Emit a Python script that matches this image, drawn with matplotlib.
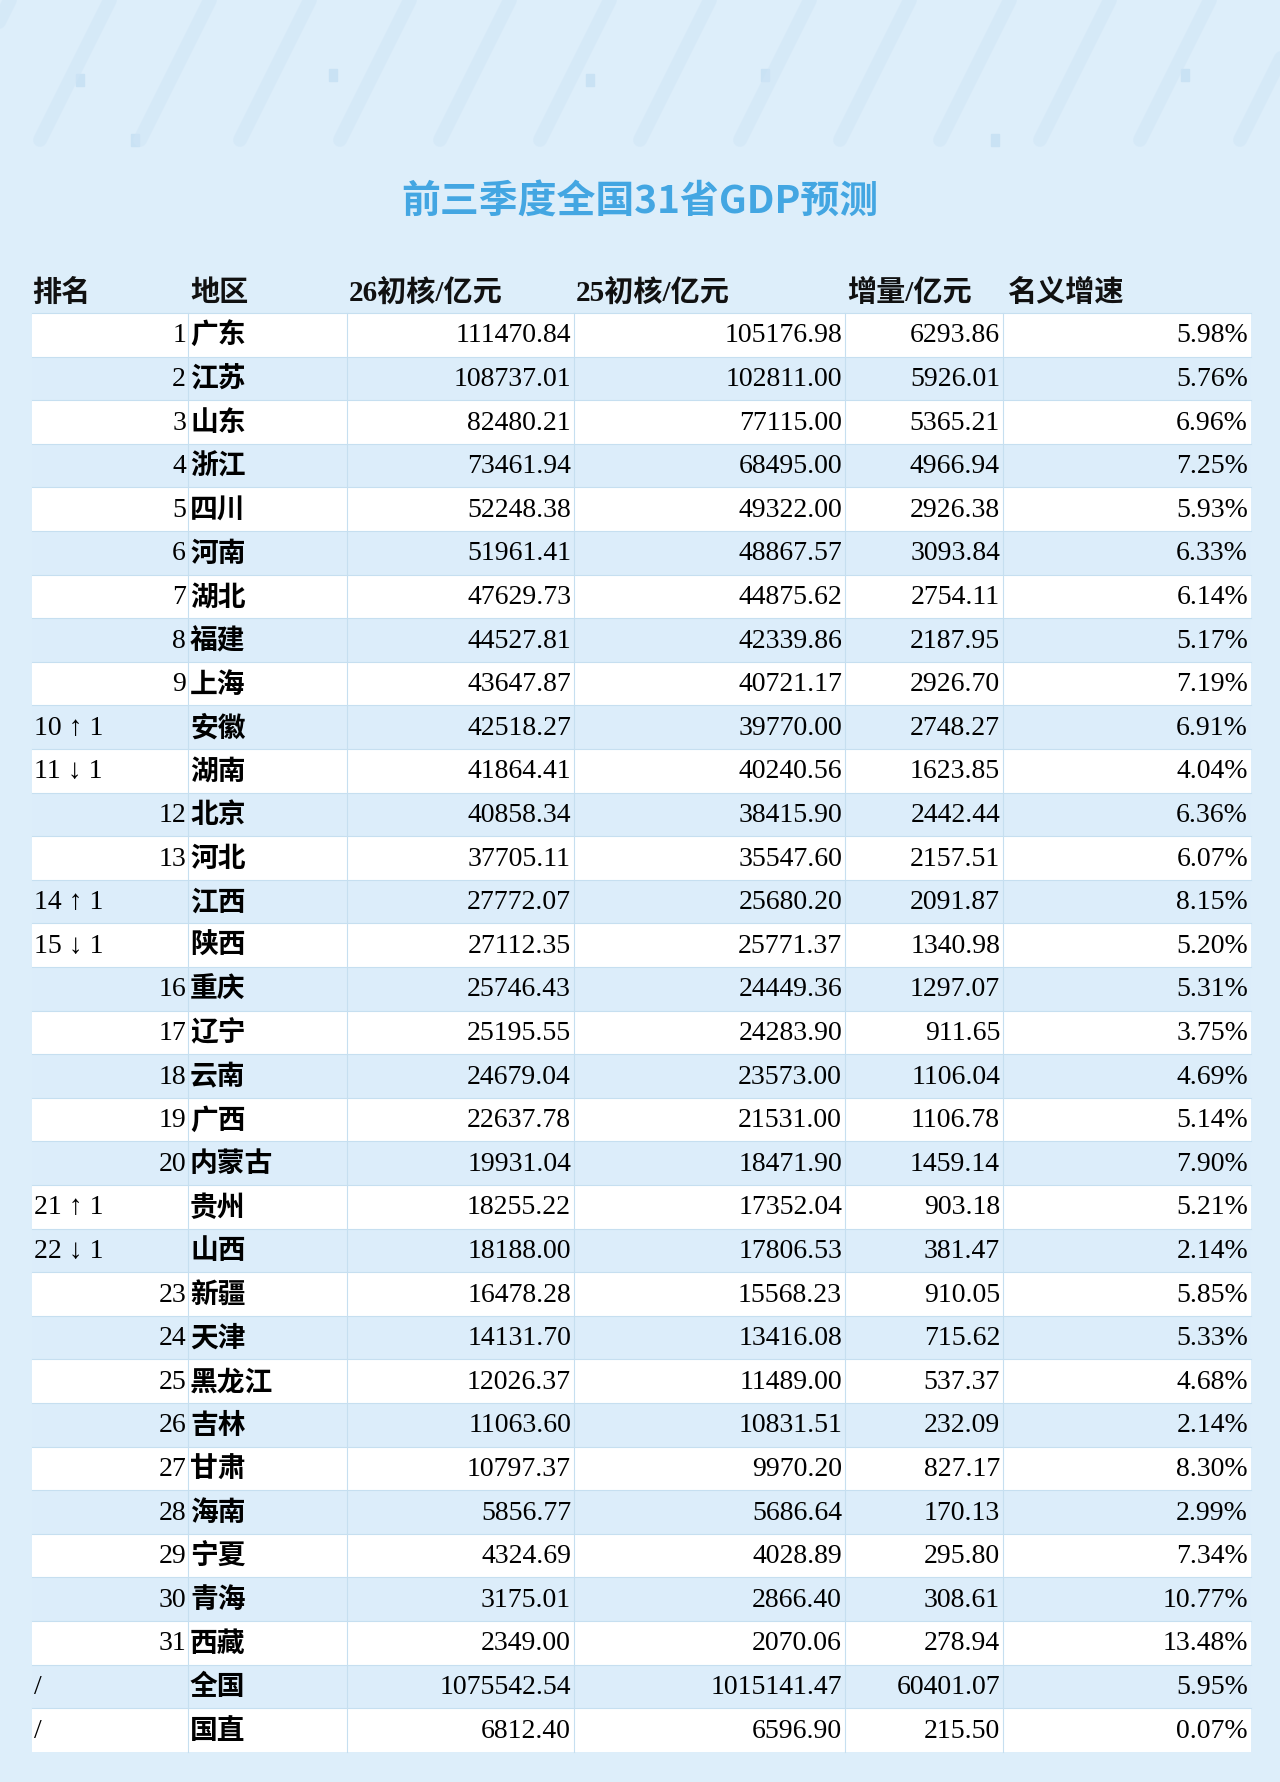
import matplotlib
matplotlib.use('Agg')
import matplotlib.pyplot as plt
from matplotlib.patches import Rectangle

plt.rcParams['font.family'] = ['Liberation Serif', 'Noto Sans CJK SC', 'DejaVu Sans']

# table data
ranks = list(range(1, 32)) + ['/', '/']
moves = {10: '↑ 1', 11: '↓ 1', 14: '↑ 1', 15: '↓ 1', 21: '↑ 1', 22: '↓ 1'}
regions = ['广东', '江苏', '山东', '浙江', '四川', '河南', '湖北', '福建', '上海', '安徽',
           '湖南', '北京', '河北', '江西', '陕西', '重庆', '辽宁', '云南', '广西', '内蒙古',
           '贵州', '山西', '新疆', '天津', '黑龙江', '吉林', '甘肃', '海南', '宁夏', '青海',
           '西藏', '全国', '国直']
gdp26 = ['111470.84', '108737.01', '82480.21', '73461.94', '52248.38', '51961.41', '47629.73',
         '44527.81', '43647.87', '42518.27', '41864.41', '40858.34', '37705.11', '27772.07',
         '27112.35', '25746.43', '25195.55', '24679.04', '22637.78', '19931.04', '18255.22',
         '18188.00', '16478.28', '14131.70', '12026.37', '11063.60', '10797.37', '5856.77',
         '4324.69', '3175.01', '2349.00', '1075542.54', '6812.40']
gdp25 = ['105176.98', '102811.00', '77115.00', '68495.00', '49322.00', '48867.57', '44875.62',
         '42339.86', '40721.17', '39770.00', '40240.56', '38415.90', '35547.60', '25680.20',
         '25771.37', '24449.36', '24283.90', '23573.00', '21531.00', '18471.90', '17352.04',
         '17806.53', '15568.23', '13416.08', '11489.00', '10831.51', '9970.20', '5686.64',
         '4028.89', '2866.40', '2070.06', '1015141.47', '6596.90']
incr = ['6293.86', '5926.01', '5365.21', '4966.94', '2926.38', '3093.84', '2754.11', '2187.95',
        '2926.70', '2748.27', '1623.85', '2442.44', '2157.51', '2091.87', '1340.98', '1297.07',
        '911.65', '1106.04', '1106.78', '1459.14', '903.18', '381.47', '910.05', '715.62',
        '537.37', '232.09', '827.17', '170.13', '295.80', '308.61', '278.94', '60401.07', '215.50']
growth = ['5.98%', '5.76%', '6.96%', '7.25%', '5.93%', '6.33%', '6.14%', '5.17%', '7.19%',
          '6.91%', '4.04%', '6.36%', '6.07%', '8.15%', '5.20%', '5.31%', '3.75%', '4.69%',
          '5.14%', '7.90%', '5.21%', '2.14%', '5.85%', '5.33%', '4.68%', '2.14%', '8.30%',
          '2.99%', '7.34%', '10.77%', '13.48%', '5.95%', '0.07%']
headers = ['排名', '地区', '26初核/亿元', '25初核/亿元', '增量/亿元', '名义增速']

W, H = 1280, 1782
fig = plt.figure(figsize=(W / 100, H / 100), dpi=100)
ax = fig.add_axes([0, 0, 1, 1])
ax.set_xlim(0, W)
ax.set_ylim(H, 0)
ax.axis('off')
fig.patch.set_facecolor('#ddeefa')

# faint diagonal streaks at top
for i in range(14):
    x0 = -60 + i * 100
    ax.plot([x0, x0 + 70], [140, 0], color='#cfe5f6', lw=10, alpha=0.5, solid_capstyle='round')
for x, y in [(80, 80), (135, 140), (333, 75), (590, 80), (765, 75), (995, 140), (1185, 75)]:
    ax.add_patch(Rectangle((x - 4, y - 6), 8, 12, color='#c9e2f4'))

ax.text(640, 202, '前三季度全国31省GDP预测', ha='center', va='center', fontsize=28,
        color='#43a6e2', family=['Noto Sans CJK SC'], fontweight='bold')

cols = [32, 188, 347, 574, 845, 1003, 1251]
top, rh = 313, 43.6
hdr_x = [32, 190, 349, 576, 847, 1007]
for x, h in zip(hdr_x, headers):
    ax.text(x, 293, h, ha='left', va='center', fontsize=21, fontweight='bold', color='#111111')

fs = 20
for i in range(len(regions)):
    y0 = top + i * rh
    yc = y0 + rh / 2 + 1
    ax.add_patch(Rectangle((cols[0], y0), cols[-1] - cols[0], rh,
                           facecolor='white' if i % 2 == 0 else '#dcedfa', edgecolor='none'))
    ax.plot([cols[0], cols[-1]], [y0, y0], color='#c6dff0', lw=0.8)
    r = ranks[i]
    if r in moves:
        ax.text(34, yc, f'{r} {moves[r]}', ha='left', va='center', fontsize=fs)
    elif r == '/':
        ax.text(34, yc, '/', ha='left', va='center', fontsize=fs)
    else:
        ax.text(cols[1] - 2, yc, str(r), ha='right', va='center', fontsize=fs)
    ax.text(cols[1] + 2, yc, regions[i], ha='left', va='center', fontsize=fs, fontweight='bold',
            family=['Noto Sans CJK SC'])
    for j, v in enumerate([gdp26[i], gdp25[i], incr[i], growth[i]]):
        ax.text(cols[j + 3] - 3, yc, v, ha='right', va='center', fontsize=fs)
for x in cols[1:-1]:
    ax.plot([x, x], [top, top + rh * len(regions)], color='#c6dff0', lw=0.8)

fig.savefig('out.png', dpi=100, facecolor=fig.get_facecolor())
